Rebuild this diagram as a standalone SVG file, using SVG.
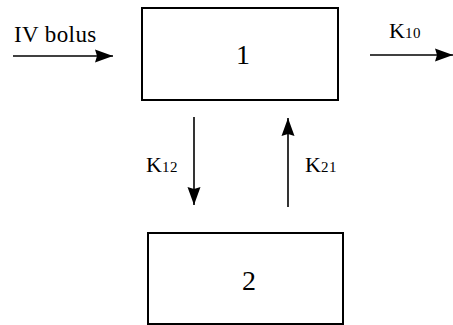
<svg xmlns="http://www.w3.org/2000/svg" width="453" height="325" viewBox="0 0 453 325">
<style>
.box{fill:#fff;stroke:#000;stroke-width:2}
text{font-family:'Liberation Serif','Times New Roman',serif;fill:#000}
.num{font-size:28px}
.t{font-size:22px}
.iv{font-size:23px;letter-spacing:0.4px}
.sub{font-size:15px;letter-spacing:0.5px}
.conn{stroke:#000;stroke-width:1.6;fill:none;marker-end:url(#ah)}
</style>
<defs>
<marker id="ah" markerUnits="userSpaceOnUse" markerWidth="19" markerHeight="14" refX="18" refY="7" orient="auto">
<path d="M0,0.5 L18,7 L0,13.5 L2,7 z" fill="#000"/>
</marker>
</defs>
<g id="node1">
<rect class="box" x="142" y="8" width="196" height="92"/>
<text class="num" x="243" y="64" text-anchor="middle">1</text>
</g>
<g id="node2">
<rect class="box" x="148" y="233" width="195" height="91"/>
<text class="num" x="249" y="290" text-anchor="middle">2</text>
</g>
<g id="connectors">
<line class="conn" x1="13" y1="56" x2="113" y2="56"/>
<line class="conn" x1="370" y1="55" x2="453" y2="55"/>
<line class="conn" x1="194" y1="117" x2="194" y2="205"/>
<line class="conn" x1="288" y1="207" x2="288" y2="118"/>
<text class="iv" x="14" y="42">IV bolus</text>
<text class="t" x="389" y="38">K<tspan class="sub">10</tspan></text>
<text class="t" x="146" y="172">K<tspan class="sub">12</tspan></text>
<text class="t" x="305" y="172">K<tspan class="sub">21</tspan></text>
</g>
</svg>
